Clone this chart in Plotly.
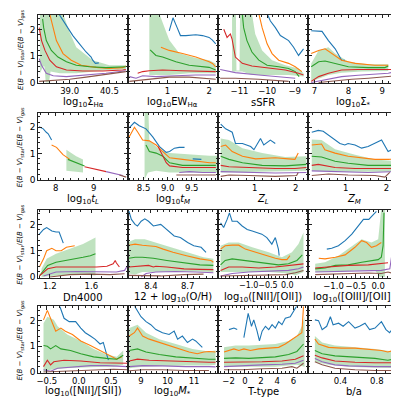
import plotly.graph_objects as go

W, H = 399, 399

COLORS = {
    "blue": "#1f77b4", "orange": "#ff7f0e", "green": "#2ca02c",
    "red": "#d62728", "purple": "#9467bd", "brown": "#8c564b",
}
LINE_ORDER = ["blue", "orange", "green", "red", "purple", "brown"]

# panel titles (x axes), ranges and tick labels
titles = [
    "log<sub>10</sub>Σ<sub>Hα</sub>", "log<sub>10</sub>EW<sub>Hα</sub>", "sSFR", "log<sub>10</sub>Σ<sub>*</sub>",
    "log<sub>10</sub><i>t<sub>L</sub></i>", "log<sub>10</sub><i>t<sub>M</sub></i>", "<i>Z<sub>L</sub></i>", "<i>Z<sub>M</sub></i>",
    "Dn4000", "12 + log<sub>10</sub>(O/H)", "log<sub>10</sub>([NII]/[OII])", "log<sub>10</sub>([OIII]/[OII])",
    "log<sub>10</sub>([NII]/[SII])", "log<sub>10</sub><i>M</i><sub>*</sub>", "T-type", "b/a",
]
x_ranges = [
    [37.82, 41.19], [0.04, 2.22], [-11.77, -8.5], [6.82, 9.49],
    [7.54, 9.9], [8.17, 10.05], [0.11, 2.31], [0.09, 2.3],
    [1.09, 1.95], [8.21, 8.95], [-1.79, 0.55], [-1.56, 0.46],
    [-0.63, 0.76], [8.5, 11.91], [-3.28, 7.85], [0.05, 1.04],
]
x_tickvals = [
    [39.0, 40.5], [1, 2], [-11, -10, -9], [7, 8, 9],
    [8, 9], [8.5, 9.0, 9.5], [1, 2], [1, 2],
    [1.2, 1.6], [8.4, 8.7], [-1.0, -0.5, 0.0], [-1.0, -0.5, 0.0],
    [-0.5, 0.0, 0.5], [9, 10, 11], [-2, 0, 2, 4, 6], [0.4, 0.8],
]
x_ticktext = [
    ["39.0", "40.5"], ["1", "2"], ["−11", "−10", "−9"], ["7", "8", "9"],
    ["8", "9"], ["8.5", "9.0", "9.5"], ["1", "2"], ["1", "2"],
    ["1.2", "1.6"], ["8.4", "8.7"], ["−1.0", "−0.5", "0.0"], ["−1.0", "−0.5", "0.0"],
    ["−0.5", "0.0", "0.5"], ["9", "10", "11"], ["−2", "0", "2", "4", "6"], ["0.4", "0.8"],
]
x_minor = [0.25, 0.2, 0.2, 0.2, 0.2, 0.1, 0.2, 0.2, 0.1, 0.05, 0.1, 0.1, 0.1, 0.2, 0.5, 0.1]
y_tickvals = [0, 1, 2]

# ---- data, (x, y) points per curve ----
sha = dict(
    blue=[(38.6, 2.58), (38.94, 2.07), (39.12, 1.77), (39.37, 1.46), (39.62, 1.15), (39.81, 0.96), (39.87, 0.84), (39.97, 0.72), (40.1, 0.74)],
    orange=[(38.25, 2.58), (38.38, 2.07), (38.5, 1.58), (38.75, 1.09), (39.06, 0.84), (39.44, 0.65), (40.0, 0.57), (40.5, 0.53), (41.0, 0.56), (41.12, 0.62)],
    green=[(37.98, 2.4), (38.02, 2.07), (38.12, 1.58), (38.31, 1.21), (38.56, 0.96), (38.88, 0.78), (39.25, 0.65), (39.75, 0.59), (40.37, 0.56), (41.0, 0.57), (41.12, 0.59)],
    hi=[(37.88, 2.6), (38.75, 2.6), (39.0, 1.9), (39.25, 1.33), (39.87, 0.84), (40.5, 0.65), (41.12, 0.65)],
    lo=[(37.88, 0.35), (38.0, 0.6), (38.05, 0.6), (38.1, 0.0), (38.22, 0.0), (38.28, 0.41), (38.63, 0.35), (39.25, 0.35), (39.87, 0.41), (40.5, 0.47), (41.12, 0.49)],
    red=[(37.85, 2.07), (37.94, 1.58), (38.07, 1.21), (38.25, 0.84), (38.5, 0.59), (38.88, 0.47), (39.5, 0.43), (40.25, 0.43), (41.0, 0.47), (41.12, 0.49)],
    purple=[(37.85, 0.9), (37.94, 0.65), (38.12, 0.35), (38.38, 0.25), (38.88, 0.22), (39.62, 0.28), (40.37, 0.35), (41.12, 0.44)],
    brown=[(37.85, 0.04), (38.38, 0.07), (39.0, 0.12), (39.62, 0.2), (40.25, 0.28), (41.0, 0.37), (41.12, 0.41)],
)
ewha = dict(
    blue=[(1.04, 1.95), (1.13, 2.44), (1.23, 2.07), (1.31, 1.77), (1.44, 1.77), (1.68, 1.8), (1.84, 1.77), (2.0, 1.7), (2.08, 1.6), (2.16, 1.46)],
    orange=[(0.84, 1.33), (1.04, 1.21), (1.36, 1.09), (1.68, 0.96), (2.0, 0.78), (2.08, 0.72), (2.16, 0.59)],
    green=[(0.58, 1.23), (0.72, 1.02), (0.88, 0.96), (1.2, 0.78), (1.52, 0.65), (1.84, 0.59), (2.0, 0.57), (2.16, 0.47)],
    hi=[(0.56, 2.6), (0.8, 2.6), (1.04, 1.6), (1.28, 1.1), (1.68, 0.92), (2.0, 0.84), (2.16, 0.72)],
    lo=[(0.56, 0.28), (1.04, 0.28), (1.52, 0.35), (2.0, 0.35), (2.16, 0.35)],
    red=[(0.28, 0.35), (0.4, 0.41), (0.56, 0.44), (0.88, 0.47), (1.36, 0.44), (1.84, 0.41), (2.16, 0.41)],
    purple=[(0.08, 0.22), (0.24, 0.16), (0.4, 0.25), (0.72, 0.22), (1.2, 0.25), (1.68, 0.28), (2.16, 0.28)],
    brown=[(0.08, 0.04), (0.4, 0.1), (0.72, 0.16), (1.04, 0.2), (1.52, 0.2), (2.0, 0.16), (2.16, 0.12)],
)
ssfr = dict(
    blue=[(-10.0, 2.6), (-9.88, 2.32), (-9.7, 2.07), (-9.52, 1.77), (-9.22, 1.58), (-9.04, 1.33), (-8.86, 1.02), (-8.68, 1.27)],
    orange=[(-10.3, 2.6), (-10.18, 2.07), (-10.0, 1.46), (-9.82, 1.09), (-9.58, 0.84), (-9.22, 0.72), (-8.98, 0.59), (-8.74, 0.41)],
    green=[(-10.9, 2.6), (-10.85, 2.07), (-10.73, 1.58), (-10.55, 1.15), (-10.3, 0.84), (-10.0, 0.65), (-9.58, 0.59), (-9.22, 0.53), (-8.98, 0.41), (-8.84, 0.22)],
    hi=[(-11.27, 2.6), (-11.13, 2.6), (-11.11, 0.45), (-11.0, 0.45), (-10.98, 2.6), (-10.55, 2.6), (-10.43, 1.83), (-10.18, 1.21), (-9.82, 0.84), (-9.34, 0.65), (-8.86, 0.53), (-8.68, 0.35)],
    lo=[(-11.27, 0.41), (-10.9, 0.41), (-10.55, 0.28), (-9.94, 0.28), (-9.22, 0.28), (-8.68, 0.22)],
    red=[(-11.57, 2.01), (-11.45, 1.7), (-11.33, 1.83), (-11.27, 1.64), (-11.15, 0.96), (-10.9, 0.72), (-10.55, 0.62), (-9.94, 0.53), (-9.34, 0.47), (-8.86, 0.35), (-8.68, 0.28)],
    purple=[(-11.7, 0.49), (-11.15, 0.37), (-10.3, 0.28), (-9.58, 0.2), (-8.98, 0.16)],
    brown=[(-11.7, 0.16), (-11.15, 0.16), (-10.3, 0.12), (-9.7, 0.07), (-9.22, 0.04)],
)
sigma = dict(
    blue=[(6.9, 1.95), (7.22, 1.93), (7.41, 1.58), (7.61, 1.27), (7.8, 0.84), (7.9, 0.84)],
    orange=[(6.9, 1.09), (7.12, 1.21), (7.31, 1.27), (7.51, 1.09), (7.8, 0.84), (8.2, 0.72), (8.78, 0.65), (9.18, 0.65)],
    green=[(6.9, 0.59), (7.12, 0.78), (7.31, 0.81), (7.61, 0.72), (8.0, 0.59), (8.59, 0.56), (9.08, 0.56), (9.18, 0.62)],
    hi=[(6.9, 0.72), (7.12, 1.21), (7.41, 1.33), (7.61, 1.09), (8.0, 0.78), (8.59, 0.69), (9.18, 0.69)],
    lo=[(6.9, 0.04), (7.12, 0.16), (7.41, 0.28), (7.8, 0.37), (8.39, 0.41), (9.18, 0.43)],
    red=[(6.9, 0.04), (7.12, 0.22), (7.41, 0.35), (7.8, 0.47), (8.29, 0.49), (8.78, 0.49), (9.37, 0.49)],
    purple=[(6.9, 0.0), (7.31, 0.1), (7.8, 0.22), (8.29, 0.27), (8.78, 0.3), (9.18, 0.35), (9.43, 0.41)],
    brown=[(7.12, 0.0), (7.61, 0.07), (8.1, 0.12), (8.59, 0.16), (9.08, 0.2), (9.43, 0.25)],
)
tl = dict(
    blue=[(7.56, 2.02), (7.67, 1.94), (7.75, 1.81), (7.8, 1.75), (7.89, 1.51)],
    orange=[(7.89, 1.32), (8.02, 1.23), (8.19, 0.95), (8.37, 0.77)],
    green=[(8.32, 0.77), (8.54, 0.64), (8.72, 0.54), (8.76, 0.52)],
    hi=[(8.28, 1.14), (8.54, 0.89), (8.72, 0.77)],
    lo=[(8.28, 0.33), (8.54, 0.3), (8.72, 0.27)],
    red=[(8.76, 0.49), (9.07, 0.4), (9.33, 0.3)],
    purple=[(9.33, 0.3), (9.6, 0.21), (9.77, 0.15)],
    brown=[(9.68, 0.17), (9.86, 0.09)],
)
tm = dict(
    blue=[(8.2, 1.98), (8.31, 2.19), (8.41, 2.06), (8.55, 1.94), (8.69, 1.63), (8.83, 1.26), (8.97, 1.04), (9.04, 1.07), (9.14, 1.2), (9.24, 1.23), (9.35, 1.23), (None, None), (9.52, 0.79), (9.7, 0.77)],
    orange=[(8.2, 1.63), (8.31, 2.0), (8.38, 1.81), (8.48, 1.51), (8.62, 1.48), (8.76, 1.32), (8.9, 1.07), (9.04, 0.83), (9.31, 0.77), (9.59, 0.7), (9.87, 0.64), (10.0, 0.64)],
    green=[(8.55, 1.32), (8.62, 1.07), (8.76, 1.01), (8.9, 0.89), (9.04, 0.64), (9.31, 0.54), (9.73, 0.54), (10.0, 0.54)],
    hi=[(8.52, 2.6), (8.6, 2.6), (8.62, 1.5), (8.83, 1.14), (9.04, 1.01), (9.45, 0.95), (9.87, 0.91), (10.05, 0.91)],
    lo=[(8.52, 0.0), (8.59, 0.27), (8.76, 0.33), (9.04, 0.27), (9.45, 0.27), (9.87, 0.27), (10.05, 0.27)],
    red=[(8.8, 1.26), (8.9, 0.89), (8.97, 0.64), (9.04, 0.52), (9.31, 0.46), (9.73, 0.46), (10.0, 0.46)],
    purple=[(9.24, 0.27), (9.45, 0.3), (9.73, 0.27), (10.0, 0.27)],
    brown=[(9.18, 0.17), (9.59, 0.17), (10.0, 0.17)],
)
zl = dict(
    blue=[(0.17, 2.12), (0.29, 1.94), (0.45, 1.81), (0.53, 1.38), (0.7, 1.38), (0.9, 1.26), (0.98, 1.14), (1.14, 1.57), (1.22, 1.32), (1.38, 1.51), (1.5, 1.38)],
    orange=[(0.17, 1.26), (0.29, 1.32), (0.45, 1.07), (0.7, 0.89), (1.02, 0.79), (1.5, 0.83), (1.82, 0.79), (1.98, 0.77), (2.06, 1.01)],
    green=[(0.17, 0.89), (0.37, 0.77), (0.7, 0.64), (1.18, 0.54), (1.74, 0.52), (1.98, 0.54), (2.26, 0.58)],
    hi=[(0.17, 1.57), (0.37, 1.51), (0.7, 1.2), (1.18, 1.01), (1.74, 0.86), (2.26, 0.89)],
    lo=[(0.17, 0.27), (0.7, 0.27), (1.5, 0.3), (2.26, 0.33)],
    red=[(0.17, 0.54), (0.37, 0.49), (0.86, 0.46), (1.5, 0.42), (1.98, 0.42), (2.26, 0.46)],
    purple=[(0.17, 0.3), (0.7, 0.27), (1.5, 0.25), (2.26, 0.27)],
    brown=[(0.17, 0.12), (0.37, 0.17), (0.86, 0.15), (1.5, 0.12), (2.02, 0.15), (2.06, 0.27)],
)
zm = dict(
    blue=[(0.17, 1.81), (0.33, 1.88), (0.45, 1.85), (0.58, 1.69), (0.74, 1.51), (0.86, 1.38), (0.98, 1.32), (1.06, 1.38), (1.23, 1.32), (1.39, 1.2), (1.55, 1.26), (1.72, 1.38), (1.88, 1.51), (2.04, 1.07), (2.16, 1.16), (2.25, 1.16)],
    orange=[(0.17, 1.32), (0.41, 1.36), (0.49, 1.14), (0.74, 1.01), (1.06, 0.89), (1.39, 0.83), (1.72, 0.77), (2.04, 0.77), (2.25, 0.79)],
    green=[(0.17, 0.89), (0.41, 0.86), (0.74, 0.7), (1.06, 0.62), (1.55, 0.54), (2.04, 0.52), (2.25, 0.54)],
    hi=[(0.17, 1.53), (0.41, 1.51), (0.74, 1.16), (1.23, 0.95), (1.72, 0.77), (2.25, 0.7)],
    lo=[(0.17, 0.33), (0.9, 0.3), (1.72, 0.3), (2.25, 0.3)],
    red=[(0.17, 0.54), (0.33, 0.58), (0.74, 0.46), (1.23, 0.42), (1.72, 0.42), (2.25, 0.42)],
    purple=[(0.17, 0.33), (0.74, 0.3), (1.55, 0.27), (2.25, 0.3)],
    brown=[(0.17, 0.15), (0.58, 0.21), (1.06, 0.17), (1.72, 0.15), (1.96, 0.09), (2.08, 0.27)],
)
dn = dict(
    blue=[(1.1, 1.63), (1.14, 1.81), (1.17, 1.88), (1.22, 1.75), (1.26, 1.71), (1.29, 1.71), (1.33, 1.29)],
    orange=[(1.1, 0.38), (1.14, 0.69), (1.17, 1.0), (1.22, 1.09), (1.26, 1.0), (1.31, 1.0), (1.36, 1.13), (1.44, 1.19)],
    green=[(1.1, 0.04), (1.14, 0.25), (1.18, 0.44), (1.26, 0.56), (1.36, 0.63), (1.46, 0.69), (1.52, 0.75), (1.59, 0.81), (1.64, 0.88)],
    hi=[(1.12, 0.31), (1.17, 0.69), (1.26, 0.88), (1.39, 1.06), (1.52, 1.25), (1.64, 1.5)],
    lo=[(1.12, 0.0), (1.26, 0.06), (1.39, 0.09), (1.52, 0.09), (1.64, 0.06)],
    red=[(1.1, 0.04), (1.14, 0.19), (1.18, 0.31), (1.26, 0.38), (1.46, 0.38), (1.65, 0.38), (1.75, 0.41), (1.81, 0.5), (1.83, 0.63), (1.84, 0.54), (1.87, 0.38)],
    purple=[(1.14, 0.04), (1.26, 0.19), (1.46, 0.21), (1.65, 0.19), (1.84, 0.19), (1.92, 0.25), (1.94, 0.38)],
    brown=[(1.2, 0.0), (1.39, 0.09), (1.59, 0.11), (1.78, 0.09), (1.92, 0.12)],
)
oh = dict(
    blue=[(8.22, 2.5), (8.24, 2.19), (8.27, 2.0), (8.29, 1.94), (8.32, 2.12), (8.35, 2.21), (8.38, 2.12), (8.42, 1.94), (8.48, 2.0), (8.53, 1.81), (8.59, 1.56), (8.64, 1.5), (8.7, 1.31), (8.75, 1.19), (8.81, 1.13), (8.85, 0.94)],
    orange=[(8.22, 1.21), (8.27, 1.25), (8.33, 1.21), (8.38, 1.19), (8.44, 1.16), (8.5, 1.06), (8.58, 0.94), (8.69, 0.81), (8.8, 0.69), (8.89, 0.63), (8.91, 0.56)],
    green=[(8.22, 0.71), (8.27, 0.75), (8.33, 0.75), (8.42, 0.71), (8.53, 0.63), (8.67, 0.54), (8.8, 0.46), (8.91, 0.44)],
    hi=[(8.22, 1.34), (8.27, 1.44), (8.35, 1.44), (8.44, 1.31), (8.55, 1.13), (8.69, 0.94), (8.83, 0.75), (8.91, 0.69)],
    lo=[(8.22, 0.13), (8.27, 0.09), (8.33, 0.19), (8.44, 0.21), (8.6, 0.21), (8.77, 0.21), (8.91, 0.19)],
    red=[(8.22, 0.38), (8.27, 0.4), (8.33, 0.4), (8.38, 0.44), (8.42, 0.38), (8.44, 0.41), (8.53, 0.38), (8.67, 0.31), (8.8, 0.29), (8.91, 0.28)],
    purple=[(8.32, 0.0), (8.36, 0.13), (8.44, 0.19), (8.6, 0.21), (8.77, 0.19), (8.91, 0.16)],
    brown=[(8.22, 0.06), (8.33, 0.04), (8.48, 0.04), (8.67, 0.09), (8.83, 0.11)],
)
n2o2 = dict(
    blue=[(-1.73, 2.06), (-1.65, 1.88), (-1.56, 2.19), (-1.5, 2.44), (-1.43, 2.12), (-1.3, 2.12), (-1.17, 1.94), (-1.04, 1.81), (-0.91, 1.75), (-0.78, 1.69), (-0.66, 1.63), (-0.53, 1.5), (-0.4, 1.25), (-0.31, 1.5), (-0.23, 1.06), (-0.21, 0.81)],
    orange=[(-1.73, 1.06), (-1.61, 1.19), (-1.43, 1.21), (-1.26, 1.21), (-1.09, 1.06), (-0.83, 0.94), (-0.57, 0.81), (-0.31, 0.71), (-0.14, 0.66), (-0.01, 0.66), (0.07, 0.81)],
    green=[(-1.73, 0.46), (-1.61, 0.63), (-1.43, 0.69), (-1.09, 0.63), (-0.66, 0.54), (-0.23, 0.46), (0.03, 0.5), (0.25, 0.63), (0.39, 0.84)],
    hi=[(-1.73, 1.19), (-1.52, 1.31), (-1.26, 1.31), (-0.91, 1.13), (-0.48, 0.94), (-0.14, 0.75), (0.12, 0.94), (0.29, 1.25), (0.42, 1.69)],
    lo=[(-1.73, 0.19), (-1.52, 0.21), (-1.0, 0.19), (-0.48, 0.19), (0.03, 0.13), (0.21, 0.06), (0.42, 0.19)],
    red=[(-1.73, 0.25), (-1.52, 0.38), (-1.17, 0.38), (-0.74, 0.34), (-0.31, 0.38), (0.03, 0.44), (0.42, 0.5)],
    purple=[(-1.73, 0.04), (-1.43, 0.13), (-1.0, 0.19), (-0.48, 0.21), (0.03, 0.25), (0.29, 0.31), (0.42, 0.38)],
    brown=[(-1.73, 0.04), (-1.17, 0.06), (-0.57, 0.06), (-0.05, 0.09), (0.21, 0.16), (0.42, 0.25)],
)
o3o2 = dict(
    blue=[(-1.15, 1.06), (-1.04, 1.09), (-0.89, 1.19), (-0.74, 1.38), (-0.59, 1.63), (-0.44, 1.94), (-0.33, 2.19), (-0.21, 2.19), (-0.07, 2.44), (-0.04, 2.5)],
    orange=[(-1.33, 0.71), (-1.19, 0.69), (-0.96, 0.75), (-0.74, 0.84), (-0.52, 1.13), (-0.37, 1.38), (-0.26, 1.31), (-0.15, 1.13), (-0.04, 1.19), (0.07, 1.31)],
    green=[(-1.41, 0.31), (-1.19, 0.34), (-0.96, 0.44), (-0.67, 0.46), (-0.37, 0.56), (-0.15, 0.63), (0.0, 0.66), (0.07, 0.75), (0.11, 1.19), (0.13, 2.44)],
    hi=[(-1.41, 0.5), (-1.19, 0.56), (-0.89, 0.81), (-0.59, 1.19), (-0.37, 1.44), (-0.15, 1.31), (0.0, 1.44), (0.07, 2.6), (0.15, 2.6)],
    lo=[(-1.41, 0.19), (-0.96, 0.19), (-0.52, 0.25), (-0.07, 0.25), (0.04, 0.0), (0.15, 0.0)],
    red=[(-1.41, 0.34), (-1.11, 0.38), (-0.67, 0.44), (-0.22, 0.46), (0.07, 0.5), (0.22, 0.54)],
    purple=[(-1.41, 0.19), (-0.96, 0.21), (-0.44, 0.25), (0.07, 0.25), (0.26, 0.31), (0.29, 0.69), (0.33, 1.13)],
    brown=[(-1.41, 0.09), (-0.81, 0.13), (-0.22, 0.15), (0.07, 0.13), (0.22, 0.19), (0.33, 0.13)],
)
n2s2 = dict(
    blue=[(-0.3, 2.58), (-0.23, 2.09), (-0.15, 1.96), (-0.05, 1.96), (0.03, 1.71), (0.1, 1.53), (0.18, 1.4), (0.25, 1.28), (0.33, 1.09), (0.38, 1.15), (0.43, 0.71), (0.46, 0.46)],
    orange=[(-0.55, 2.03), (-0.49, 2.4), (-0.41, 1.9), (-0.36, 1.59), (-0.28, 1.71), (-0.21, 1.59), (-0.1, 1.46), (0.03, 1.21), (0.18, 1.03), (0.33, 0.84), (0.46, 0.65), (0.59, 0.5), (0.67, 0.59)],
    green=[(-0.55, 1.03), (-0.49, 1.0), (-0.44, 0.9), (-0.36, 1.03), (-0.28, 0.9), (-0.13, 0.84), (0.03, 0.71), (0.23, 0.59), (0.43, 0.53), (0.59, 0.5), (0.69, 0.65)],
    hi=[(-0.55, 1.9), (-0.49, 2.15), (-0.39, 2.03), (-0.33, 1.78), (-0.18, 1.46), (0.03, 1.21), (0.23, 0.9), (0.43, 0.68), (0.59, 0.59), (0.69, 0.84)],
    lo=[(-0.55, 0.0), (-0.44, 0.09), (-0.23, 0.15), (0.03, 0.18), (0.28, 0.2), (0.54, 0.21), (0.69, 0.28)],
    red=[(-0.55, 0.21), (-0.49, 0.46), (-0.44, 0.28), (-0.39, 0.4), (-0.23, 0.46), (0.03, 0.43), (0.33, 0.36), (0.54, 0.34), (0.77, 0.34)],
    purple=[(-0.55, 0.09), (-0.44, 0.03), (-0.33, 0.15), (-0.08, 0.21), (0.18, 0.25), (0.43, 0.25), (0.77, 0.21)],
    brown=[(-0.55, 0.0), (-0.23, 0.03), (0.03, 0.05), (0.33, 0.09), (0.54, 0.11), (0.77, 0.09)],
)
mstar = dict(
    blue=[(8.75, 2.58), (9.0, 2.15), (9.19, 1.96), (9.37, 1.84), (9.56, 1.65), (9.81, 1.53), (10.06, 1.46), (10.25, 1.59), (10.38, 1.28), (10.56, 1.4), (10.75, 1.15), (10.94, 1.28), (11.06, 1.21), (11.31, 0.96)],
    orange=[(8.56, 1.4), (8.75, 1.53), (8.87, 1.71), (9.06, 1.4), (9.31, 1.28), (9.69, 1.15), (10.06, 1.03), (10.44, 0.9), (10.81, 0.78), (11.12, 0.71), (11.37, 0.78), (11.56, 0.8), (11.81, 0.78)],
    green=[(8.56, 0.84), (8.87, 0.9), (9.19, 0.78), (9.69, 0.68), (10.31, 0.59), (10.94, 0.53), (11.56, 0.5), (11.81, 0.5)],
    hi=[(8.56, 1.71), (8.87, 1.84), (9.19, 1.53), (9.69, 1.28), (10.31, 1.09), (10.94, 0.9), (11.56, 0.8), (11.81, 0.84)],
    lo=[(8.56, 0.15), (9.06, 0.21), (9.81, 0.24), (10.69, 0.25), (11.56, 0.25), (11.81, 0.28)],
    red=[(8.56, 0.43), (8.87, 0.5), (9.31, 0.46), (9.94, 0.43), (10.69, 0.4), (11.56, 0.38), (11.81, 0.38)],
    purple=[(8.56, 0.21), (9.06, 0.25), (9.81, 0.24), (10.69, 0.21), (11.56, 0.21), (11.81, 0.2)],
    brown=[(8.56, 0.05), (9.06, 0.09), (9.81, 0.09), (10.69, 0.06), (11.56, 0.06)],
)
ttype = dict(
    blue=[(-1.96, 1.65), (-1.35, 1.71), (-0.94, 1.65), (None, None), (-0.12, 1.34), (0.41, 2.28), (0.82, 1.78), (1.1, 2.03), (1.51, 1.59), (1.8, 1.21), (2.13, 1.59), (2.54, 1.78), (2.95, 1.65), (3.36, 1.84), (3.76, 1.71), (4.17, 1.96), (4.58, 1.84), (4.99, 2.09), (5.6, 2.15), (6.01, 2.34), (6.42, 2.58)],
    orange=[(-2.57, 0.78), (-1.96, 0.84), (-1.35, 0.9), (-0.74, 0.84), (-0.12, 0.9), (0.69, 0.84), (1.72, 0.9), (2.95, 0.93), (4.17, 0.96), (4.99, 1.09), (5.81, 1.28), (6.42, 1.4), (7.03, 1.53), (7.24, 2.58)],
    green=[(-2.57, 0.53), (-1.15, 0.55), (0.49, 0.53), (2.13, 0.55), (3.76, 0.59), (5.4, 0.68), (6.42, 0.8), (7.24, 1.09)],
    hi=[(-2.57, 0.96), (-1.15, 1.03), (0.49, 1.03), (2.13, 1.05), (3.76, 1.09), (5.4, 1.21), (6.42, 1.4), (7.03, 1.78), (7.36, 2.15)],
    lo=[(-2.57, 0.21), (0.49, 0.21), (3.76, 0.21), (5.4, 0.25), (6.42, 0.28), (7.36, 0.21)],
    red=[(-2.57, 0.38), (-0.33, 0.38), (2.13, 0.4), (4.58, 0.43), (6.22, 0.5), (7.24, 0.63)],
    purple=[(-2.57, 0.21), (-0.33, 0.25), (2.13, 0.28), (4.58, 0.3), (6.22, 0.34), (7.24, 0.46)],
    brown=[(-2.57, 0.09), (-0.33, 0.09), (2.13, 0.13), (4.58, 0.15), (5.81, 0.21), (6.42, 0.15), (7.24, 0.34)],
)
ba = dict(
    blue=[(0.12, 2.03), (0.16, 2.0), (0.2, 1.65), (0.25, 1.78), (0.29, 2.15), (0.32, 1.84), (0.38, 1.9), (0.43, 1.78), (0.49, 1.96), (0.56, 1.71), (0.61, 1.78), (0.67, 1.9), (0.72, 1.65), (0.78, 1.71), (0.85, 1.96), (0.9, 1.65), (0.94, 1.53), (0.98, 1.71)],
    orange=[(0.12, 1.28), (0.16, 1.09), (0.27, 0.96), (0.41, 0.93), (0.56, 0.93), (0.7, 0.9), (0.85, 0.84), (0.92, 0.78), (0.98, 0.84)],
    green=[(0.12, 0.84), (0.2, 0.71), (0.34, 0.63), (0.49, 0.59), (0.63, 0.55), (0.78, 0.53), (0.92, 0.46), (0.98, 0.5)],
    hi=[(0.12, 1.4), (0.2, 1.15), (0.34, 1.03), (0.56, 0.96), (0.78, 0.9), (0.98, 0.8)],
    lo=[(0.12, 0.4), (0.27, 0.28), (0.49, 0.21), (0.7, 0.18), (0.98, 0.15)],
    red=[(0.12, 0.65), (0.2, 0.55), (0.34, 0.43), (0.56, 0.38), (0.78, 0.36), (0.98, 0.36)],
    purple=[(0.12, 0.53), (0.2, 0.4), (0.34, 0.28), (0.49, 0.24), (0.78, 0.21), (0.98, 0.21)],
    brown=[(0.12, 0.4), (0.2, 0.28), (0.34, 0.15), (0.56, 0.09), (0.78, 0.06), (0.98, 0.06)],
)

panels = [sha, ewha, ssfr, sigma, tl, tm, zl, zm, dn, oh, n2o2, o3o2, n2s2, mstar, ttype, ba]

# pixel boxes of the 4x4 grid
col_px = [(28.5, 118.3), (118.3, 209.3), (209.3, 300.0), (300.0, 390.7)]
row_px = [(7.0, 76.0), (106.0, 174.0), (204.0, 272.5), (301.5, 368.5)]
title_gap = [19.5, 19.5, 19.5, 19.0]

YTITLE = "<i>E</i>(<i>B</i> − <i>V</i>)<sub>star</sub>/<i>E</i>(<i>B</i> − <i>V</i>)<sub>gas</sub>"

fig = go.Figure()
layout = {}
annotations = []

for i, pdata in enumerate(panels):
    r, c = divmod(i, 4)
    k = i + 1
    xs = "x" if k == 1 else f"x{k}"
    ys = "y" if k == 1 else f"y{k}"

    # shaded band
    hi, lo = pdata["hi"], pdata["lo"]
    bx = [p[0] for p in hi] + [p[0] for p in reversed(lo)]
    by = [p[1] for p in hi] + [p[1] for p in reversed(lo)]
    fig.add_trace(go.Scatter(x=bx, y=by, fill="toself", fillcolor="rgba(44,160,44,0.3)",
                             line=dict(width=0), mode="lines", xaxis=xs, yaxis=ys,
                             showlegend=False, hoverinfo="skip"))
    for name in LINE_ORDER:
        pts = pdata[name]
        fig.add_trace(go.Scatter(x=[p[0] for p in pts], y=[p[1] for p in pts], mode="lines",
                                 line=dict(color=COLORS[name], width=1.1),
                                 xaxis=xs, yaxis=ys, showlegend=False))

    x0, x1 = col_px[c]
    y0, y1 = row_px[r]
    axis_common = dict(showgrid=False, zeroline=False, showline=True, linecolor="#222",
                       linewidth=1, mirror="allticks", ticks="inside", ticklen=3.5,
                       tickcolor="#222", tickangle=0)
    layout["xaxis" if k == 1 else f"xaxis{k}"] = dict(
        domain=[x0 / W, x1 / W], anchor=ys, range=x_ranges[i],
        tickmode="array", tickvals=x_tickvals[i], ticktext=x_ticktext[i],
        tickfont=dict(size=8 if i == 10 else 8.5, color="black"),
        minor=dict(ticks="inside", ticklen=2, dtick=x_minor[i], tick0=0, tickcolor="#222"),
        **axis_common)
    layout["yaxis" if k == 1 else f"yaxis{k}"] = dict(
        domain=[1 - y1 / H, 1 - y0 / H], anchor=xs, range=[-0.03, 2.55],
        tickmode="array", tickvals=y_tickvals, ticktext=["0", "1", "2"],
        showticklabels=(c == 0), tickfont=dict(size=9, color="black"),
        minor=dict(ticks="inside", ticklen=2, dtick=0.2, tick0=0, tickcolor="#222"),
        **axis_common)

    annotations.append(dict(text=titles[i], x=(x0 + x1) / 2 / W, y=1 - (y1 + title_gap[r]) / H,
                            xref="paper", yref="paper", showarrow=False,
                            xanchor="center", yanchor="middle",
                            font=dict(size=10, color="black")))
    if c == 0:
        annotations.append(dict(text=YTITLE, x=11 / W, y=1 - (y0 + y1) / 2 / H,
                                xref="paper", yref="paper", showarrow=False, textangle=-90,
                                xanchor="center", yanchor="middle",
                                font=dict(size=7, color="black")))

fig.update_layout(
    width=W, height=H,
    margin=dict(l=0, r=0, t=0, b=0),
    paper_bgcolor="white", plot_bgcolor="white",
    font=dict(family="DejaVu Sans", color="black"),
    annotations=annotations,
    **layout,
)

fig.write_html("out.html")
